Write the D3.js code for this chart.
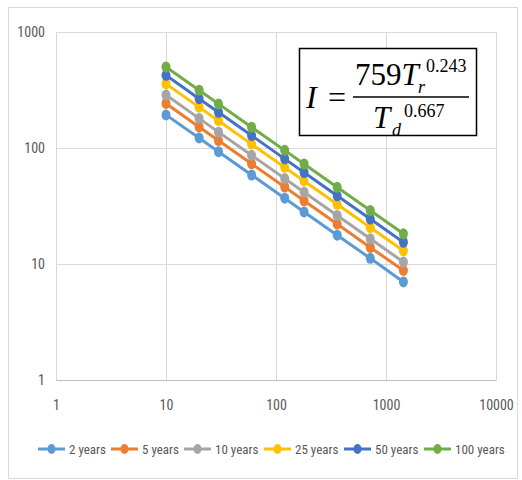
<!DOCTYPE html>
<html>
<head>
<meta charset="utf-8">
<script src="https://cdn.jsdelivr.net/npm/d3@7"></script>
<style>
  body { margin: 0; background: #fff; }
  .tick text { font-family: "Liberation Sans Narrow", "Roboto Condensed", "Liberation Sans", sans-serif; font-size: 14px; fill: #595959; }
  .legend text { font-family: "Liberation Sans Narrow", "Roboto Condensed", "Liberation Sans", sans-serif; font-size: 13px; fill: #595959; }
  .eq text { font-family: "Liberation Serif", "Times New Roman", serif; fill: #000; }
</style>
</head>
<body>
<div id="chart"></div>
<script>
// durations (minutes)
const durations = [10, 20, 30, 60, 120, 180, 360, 720, 1440];

// intensity per return period
const years2   = [193, 122, 93, 58.5, 36.9, 28.1, 17.7, 11.2, 7.0];
const years5   = [242, 152, 116, 73.1, 46.1, 35.1, 22.1, 13.9, 8.8];
const years10  = [286, 180, 137, 86.5, 54.5, 41.6, 26.2, 16.5, 10.4];
const years25  = [357, 225, 172, 108, 68.1, 52.0, 32.7, 20.6, 13.0];
const years50  = [423, 266, 203, 128, 80.6, 61.5, 38.7, 24.4, 15.4];
const years100 = [500, 315, 240, 151, 95.4, 72.8, 45.8, 28.9, 18.2];

const seriesNames = ["2 years", "5 years", "10 years", "25 years", "50 years", "100 years"];
const seriesColors = ["#5B9BD5", "#ED7D31", "#A5A5A5", "#FFC000", "#4472C4", "#70AD47"];
const xTicks = [1, 10, 100, 1000, 10000];
const yTicks = [1, 10, 100, 1000];

const allSeries = [years2, years5, years10, years25, years50, years100].map((vals, i) => ({
  name: seriesNames[i],
  color: seriesColors[i],
  points: vals.map((v, j) => ({ x: durations[j], y: v }))
}));

const width = 522, height = 480;
const margin = { top: 32, right: 26, bottom: 100, left: 56 };
const innerW = width - margin.left - margin.right;
const innerH = height - margin.top - margin.bottom;

const svg = d3.select('#chart').append('svg')
  .attr('width', width)
  .attr('height', height);

// outer chart frame
svg.append('rect')
  .attr('x', 8.5).attr('y', 7.5)
  .attr('width', 509).attr('height', 471)
  .attr('fill', 'none')
  .attr('stroke', '#d9d9d9');

const chart = svg.append('g')
  .attr('transform', `translate(${margin.left},${margin.top})`);

const xScale = d3.scaleLog().domain([1, 10000]).range([0, innerW]);
const yScale = d3.scaleLog().domain([1, 1000]).range([innerH, 0]);

// gridlines
chart.append('g').selectAll('line.vg')
  .data(xTicks)
  .join('line')
  .attr('x1', d => Math.round(xScale(d)) + 0.5).attr('x2', d => Math.round(xScale(d)) + 0.5)
  .attr('y1', 0).attr('y2', innerH)
  .attr('stroke', '#d9d9d9');

chart.append('g').selectAll('line.hg')
  .data(yTicks)
  .join('line')
  .attr('y1', d => Math.round(yScale(d)) + 0.5).attr('y2', d => Math.round(yScale(d)) + 0.5)
  .attr('x1', 0).attr('x2', innerW)
  .attr('stroke', '#d9d9d9');

// axes (labels only, lines come from grid)
const xAxis = d3.axisBottom(xScale).tickValues(xTicks).tickFormat(d3.format('d')).tickSize(0).tickPadding(20);
const yAxis = d3.axisLeft(yScale).tickValues(yTicks).tickFormat(d3.format('d')).tickSize(0).tickPadding(11);

const xAxisG = chart.append('g').attr('transform', `translate(0,${innerH})`).call(xAxis);
const yAxisG = chart.append('g').call(yAxis);
xAxisG.select('.domain').attr('stroke', '#bfbfbf');
yAxisG.select('.domain').remove();

// lines + markers
const line = d3.line().x(d => xScale(d.x)).y(d => yScale(d.y));

const seriesG = chart.selectAll('.series')
  .data(allSeries)
  .join('g')
  .attr('class', 'series');

seriesG.append('path')
  .attr('d', d => line(d.points))
  .attr('fill', 'none')
  .attr('stroke', d => d.color)
  .attr('stroke-width', 3);

seriesG.selectAll('ellipse')
  .data(d => d.points.map(p => ({ ...p, color: d.color })))
  .join('ellipse')
  .attr('cx', d => xScale(d.x))
  .attr('cy', d => yScale(d.y))
  .attr('rx', 4.5)
  .attr('ry', 5.5)
  .attr('fill', d => d.color);

// legend
const legendX = [38, 111, 184, 264, 344, 424];
const legend = svg.append('g').attr('class', 'legend')
  .attr('transform', 'translate(0,449)');

const item = legend.selectAll('g')
  .data(allSeries)
  .join('g')
  .attr('transform', (d, i) => `translate(${legendX[i]},0)`);

item.append('line')
  .attr('x1', 0).attr('x2', 27)
  .attr('stroke', d => d.color)
  .attr('stroke-width', 3);
item.append('ellipse')
  .attr('cx', 13.5).attr('rx', 4).attr('ry', 5)
  .attr('fill', d => d.color);
item.append('text')
  .attr('x', 31).attr('dy', '0.35em')
  .text(d => d.name);

// equation box
const eq = svg.append('g').attr('class', 'eq');
eq.append('rect')
  .attr('x', 299.5).attr('y', 48.5)
  .attr('width', 177).attr('height', 87)
  .attr('fill', '#fff')
  .attr('stroke', '#000')
  .attr('stroke-width', 1.5);

eq.append('text').attr('x', 306).attr('y', 108)
  .style('font-size', '32px').style('font-style', 'italic').text('I');
eq.append('text').attr('x', 328).attr('y', 108)
  .style('font-size', '32px').text('=');
eq.append('line')
  .attr('x1', 353).attr('x2', 469)
  .attr('y1', 97).attr('y2', 97)
  .attr('stroke', '#000').attr('stroke-width', 1.5);

eq.append('text').attr('x', 355).attr('y', 85)
  .style('font-size', '31px')
  .text('759')
  .append('tspan').style('font-style', 'italic').text('T');
eq.append('text').attr('x', 418).attr('y', 93)
  .style('font-size', '18px').style('font-style', 'italic').text('r');
eq.append('text').attr('x', 426).attr('y', 72)
  .style('font-size', '18px').text('0.243');

eq.append('text').attr('x', 373).attr('y', 128)
  .style('font-size', '31px').style('font-style', 'italic').text('T');
eq.append('text').attr('x', 392).attr('y', 136)
  .style('font-size', '18px').style('font-style', 'italic').text('d');
eq.append('text').attr('x', 404).attr('y', 117)
  .style('font-size', '18px').text('0.667');
</script>
</body>
</html>
